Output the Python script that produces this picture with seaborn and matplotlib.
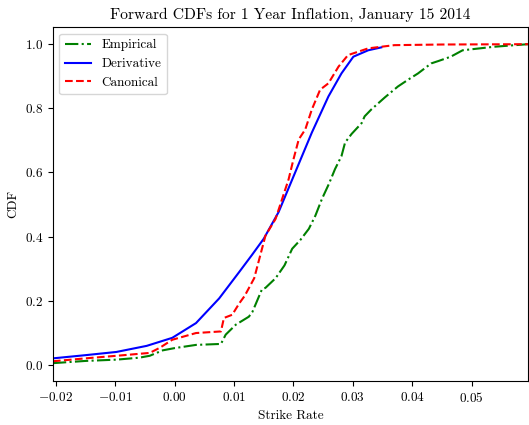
import matplotlib
matplotlib.use("Agg")
import matplotlib.pyplot as plt
import seaborn as sns
import numpy as np

plt.rcParams['font.family'] = ['cmr10', 'DejaVu Serif']
plt.rcParams['mathtext.fontset'] = 'cm'
plt.rcParams['axes.formatter.use_mathtext'] = True

title = "Forward CDFs for 1 Year Inflation, January 15 2014"
xlabel = "Strike Rate"
ylabel = "CDF"

emp_x = [-0.0205, -0.015, -0.0098, -0.006, -0.0042, -0.002, 0.0, 0.0036, 0.0078, 0.0086,
         0.0103, 0.0125, 0.0131, 0.0147, 0.0153, 0.017, 0.0185, 0.0198, 0.0212, 0.0226,
         0.0237, 0.0248, 0.026, 0.027, 0.0281, 0.0287, 0.0298, 0.0315, 0.032, 0.0331,
         0.0354, 0.0376, 0.0393, 0.041, 0.0432, 0.0445, 0.0465, 0.0485, 0.0538, 0.0595]
emp_y = [0.005, 0.012, 0.016, 0.022, 0.028, 0.045, 0.052, 0.062, 0.065, 0.094,
         0.125, 0.150, 0.165, 0.235, 0.240, 0.27, 0.31, 0.362, 0.39, 0.424,
         0.465, 0.517, 0.565, 0.61, 0.651, 0.693, 0.72, 0.754, 0.775, 0.796,
         0.834, 0.868, 0.889, 0.909, 0.94, 0.948, 0.961, 0.981, 0.992, 1.0]

der_x = [-0.0205, -0.015, -0.0098, -0.0047, -0.0004, 0.0036, 0.0075, 0.0109, 0.013, 0.015,
         0.0175, 0.0203, 0.0231, 0.0259, 0.0281, 0.0301, 0.0326, 0.0348]
der_y = [0.02, 0.03, 0.04, 0.059, 0.084, 0.13, 0.207, 0.29, 0.342, 0.393,
         0.476, 0.60, 0.724, 0.837, 0.909, 0.961, 0.981, 0.99]

can_x = [-0.0205, -0.015, -0.0098, -0.0042, -0.0025, -0.0004, 0.0036, 0.0078, 0.0083, 0.0097,
         0.0109, 0.0118, 0.0134, 0.0153, 0.017, 0.0192, 0.020, 0.0209, 0.022, 0.0231,
         0.0245, 0.0259, 0.0276, 0.0292, 0.0326, 0.037, 0.045, 0.0595]
can_y = [0.011, 0.02, 0.028, 0.037, 0.053, 0.078, 0.099, 0.104, 0.146, 0.156,
         0.192, 0.215, 0.27, 0.403, 0.455, 0.579, 0.64, 0.703, 0.734, 0.796,
         0.858, 0.878, 0.93, 0.966, 0.987, 0.997, 0.999, 1.0]

fig = plt.figure(figsize=(5.29, 4.25), dpi=100)
ax = fig.add_axes([0.100, 0.104, 0.898, 0.832])

sns.lineplot(x=emp_x, y=emp_y, ax=ax, color='green', linestyle='-.', lw=1.5,
             sort=False, estimator=None, label='Empirical')
sns.lineplot(x=der_x, y=der_y, ax=ax, color='blue', linestyle='-', lw=1.5,
             sort=False, estimator=None, label='Derivative')
sns.lineplot(x=can_x, y=can_y, ax=ax, color='red', linestyle='--', lw=1.5,
             sort=False, estimator=None, label='Canonical')

ax.set_xlim(-0.0205, 0.0595)
ax.set_ylim(-0.05, 1.053)
ax.set_xticks([-0.02, -0.01, 0.0, 0.01, 0.02, 0.03, 0.04, 0.05])
ax.set_yticks([0.0, 0.2, 0.4, 0.6, 0.8, 1.0])
ax.tick_params(labelsize=9.5)
ax.set_title(title, fontsize=11.2)
ax.set_xlabel(xlabel, fontsize=9.5)
ax.set_ylabel(ylabel, fontsize=9.5)
ax.legend(loc='upper left', fontsize=9.5)

fig.savefig("out.png", dpi=100)
